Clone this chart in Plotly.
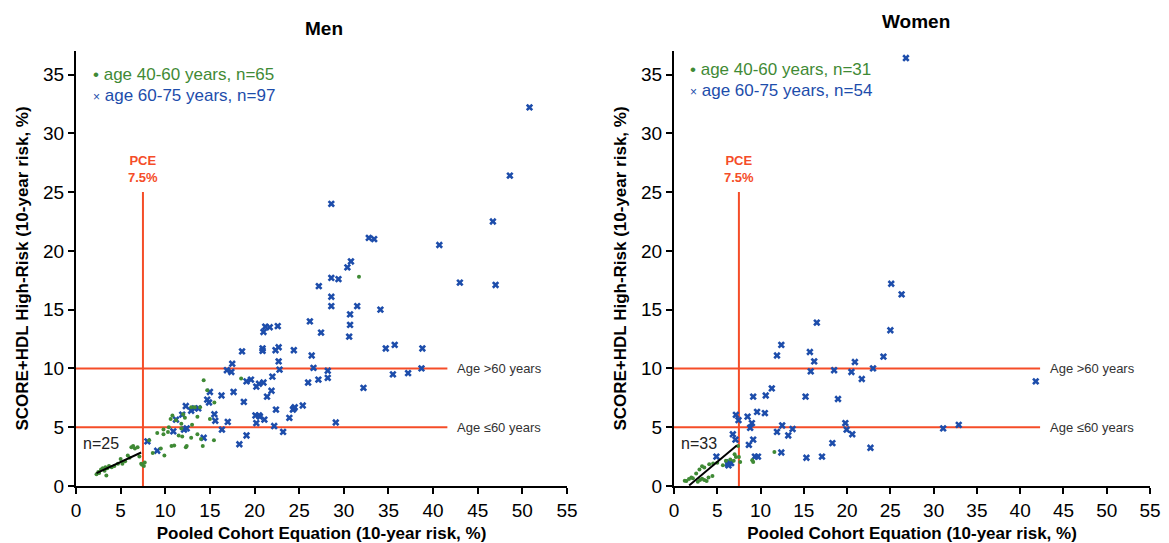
import plotly.graph_objects as go

# ---------------- data ----------------
men_young_x = [2.3, 2.5, 2.6, 2.8, 3.0, 3.2, 3.3, 3.5, 3.7, 3.4, 4.0, 4.3, 4.7, 5.0, 5.2, 5.5, 5.8, 6.0, 6.2, 6.4, 6.6, 6.9, 7.1, 7.3, 7.4,
               7.6, 7.7, 8.6, 9.1, 9.5, 9.8, 9.8, 9.9, 10.6, 10.8, 11.2, 10.7, 11.0, 11.8, 11.8, 11.9, 12.0, 12.2, 12.3, 12.9,
               12.9, 13.3, 13.6, 13.6, 13.9, 14.0, 14.2, 14.3, 14.7, 15.0, 15.45, 15.5, 18.5, 31.7, 10.4, 8.2, 11.5, 12.4, 13.0, 10.3]
men_young_y = [1.0, 1.2, 1.1, 1.4, 1.5, 1.3, 1.6, 1.5, 1.7, 0.9, 1.6, 1.7, 1.9, 2.3, 1.9, 2.1, 2.6, 2.4, 3.3, 3.4, 3.2, 3.3, 2.5, 1.9, 1.8,
               1.7, 2.0, 2.8, 4.5, 3.2, 4.8, 4.4, 2.6, 5.7, 6.0, 5.6, 3.4, 3.45, 4.9, 5.3, 4.2, 6.1, 5.8, 3.3, 4.1,
               6.7, 6.7, 5.9, 4.4, 6.7, 4.0, 3.4, 9.0, 8.15, 5.7, 3.9, 7.1, 9.15, 17.8, 5.0, 3.9, 4.3, 3.4, 5.2, 4.6]

men_old_x = [8.0, 9.1, 10.9, 11.2, 11.9, 12.1, 12.3, 12.9, 13.3, 13.7, 14.3, 14.7, 14.9, 15.0, 15.5, 15.6, 16.3, 16.35, 17.0, 16.9,
             17.4, 17.5, 17.65, 18.3, 18.6, 18.8, 19.1, 19.1, 19.6, 20.2, 20.5, 21.0, 20.1, 20.6, 21.1, 20.2, 20.9, 20.9, 21.0, 21.2,
             21.7, 22.6, 22.35, 22.7, 22.7, 22.8, 21.9, 21.4, 22.4, 22.2, 23.2, 23.9, 24.3, 24.5, 24.4, 24.4, 25.4, 26.0, 26.2, 26.4,
             26.6, 27.15, 27.45, 27.2, 28.2, 28.2, 28.6, 28.6, 29.4, 28.6, 28.6, 29.1, 30.4, 30.8, 30.7, 30.7, 30.6, 31.5, 32.2, 32.8,
             33.4, 34.1, 34.7, 35.7, 35.5, 37.2, 38.8, 38.7, 40.7, 43.0, 46.7, 47.0, 48.6, 50.8, 12.4, 20.5, 22.0]
men_old_y = [3.8, 3.0, 4.65, 5.65, 6.07, 4.8, 6.8, 6.4, 6.6, 6.6, 4.1, 7.35, 7.1, 8.0, 6.1, 5.55, 7.7, 4.8, 5.45, 9.85,
             9.7, 10.4, 8.0, 3.55, 11.45, 7.15, 4.3, 8.9, 9.05, 8.45, 8.7, 8.8, 6.0, 5.9, 5.65, 5.35, 11.7, 11.5, 13.1, 13.55,
             13.5, 13.6, 11.55, 11.8, 10.6, 9.9, 8.1, 7.6, 6.5, 5.1, 4.6, 5.8, 6.5, 6.7, 6.6, 11.55, 6.85, 8.8, 14.0, 11.1,
             10.05, 9.05, 13.05, 17.0, 9.8, 9.2, 24.0, 17.7, 17.6, 16.1, 15.3, 5.4, 18.6, 19.1, 14.6, 13.7, 12.7, 15.3, 8.35, 21.1,
             21.0, 15.0, 11.7, 12.0, 9.5, 9.6, 11.7, 10.0, 20.5, 17.3, 22.5, 17.1, 26.4, 32.2, 4.9, 6.0, 9.3]

women_young_x = [1.24, 1.43, 1.73, 2.0, 2.18, 2.56, 2.94, 3.24, 3.5, 2.75, 3.0, 3.24, 3.5, 3.77, 3.99, 4.07, 4.44, 4.52, 5.0, 5.65,
                 6.0, 6.5, 6.9, 7.15, 7.4, 7.5, 7.65, 9.04, 9.15, 11.6, 7.0]
women_young_y = [0.45, 0.42, 0.59, 0.73, 0.65, 1.07, 1.41, 1.69, 1.58, 0.37, 0.5, 0.62, 0.5, 0.42, 0.73, 1.86, 0.84, 1.91, 1.97, 1.77,
                 2.14, 2.25, 2.14, 2.47, 3.4, 2.47, 2.05, 2.19, 2.05, 2.9, 2.7]

women_old_x = [16.5, 12.4, 11.9, 15.7, 16.2, 15.8, 11.3, 10.6, 9.15, 15.2, 9.6, 10.5, 8.5, 7.15, 7.45, 9.0, 8.8, 12.5, 13.7, 11.9,
               13.2, 6.8, 7.1, 9.15, 8.65, 12.4, 9.35, 9.7, 4.9, 6.2, 6.4, 6.6, 6.3, 15.3, 17.1, 25.1, 26.3, 25.0, 18.5, 20.5,
               20.9, 21.7, 23.0, 24.2, 18.95, 19.8, 19.95, 20.6, 18.3, 22.7, 31.1, 32.9, 41.8, 26.8]
women_old_y = [13.9, 12.0, 11.1, 11.4, 10.6, 9.75, 8.3, 7.7, 7.6, 7.6, 6.3, 6.2, 5.9, 6.05, 5.6, 5.35, 4.95, 5.15, 4.85, 4.6,
               4.3, 4.4, 3.95, 3.95, 3.5, 2.85, 2.5, 2.5, 2.5, 1.9, 2.0, 1.95, 1.75, 2.4, 2.5, 17.2, 16.3, 13.25, 9.85, 9.7,
               10.55, 9.1, 10.0, 11.0, 7.4, 5.35, 4.8, 4.4, 3.65, 3.25, 4.9, 5.2, 8.9, 36.4]

men_fit_x = [2.3, 7.3]
men_fit_y = [1.1, 2.85]
women_fit_x = [1.75, 7.25]
women_fit_y = [0.05, 3.45]

pce_cut = 7.5
risk_cuts = [10, 5]
risk_labels = ["Age >60 years", "Age \u226460 years"]
x_ticks = list(range(0, 60, 5))
y_ticks = list(range(0, 40, 5))

GREEN = "#3f8a35"
BLUE = "#1d4dab"
RED = "#f54d28"
FONT = "Liberation Sans, Arial"

# page has an 8px body margin: figure pixel = page pixel - 8
W, H = 1161, 535
OFF = 8


def px(v):
    return (v - OFF) / W


def py(v):
    return 1 - (v - OFF) / H


fig = go.Figure()

panels = [
    dict(x="x", y="y",
         yx=men_young_x, yy=men_young_y, ox=men_old_x, oy=men_old_y,
         fx=men_fit_x, fy=men_fit_y, n="n=25", lx=42.5, line_end=41.6,
         leg1="age 40-60 years, n=65", leg2="age 60-75 years, n=97", ly1=0.947, ly2=0.897),
    dict(x="x2", y="y2",
         yx=women_young_x, yy=women_young_y, ox=women_old_x, oy=women_old_y,
         fx=women_fit_x, fy=women_fit_y, n="n=33", lx=43.2, line_end=42.3,
         leg1="age 40-60 years, n=31", leg2="age 60-75 years, n=54", ly1=0.957, ly2=0.910),
]

annotations = []
shapes = []
for p in panels:
    fig.add_trace(go.Scatter(x=p["ox"], y=p["oy"], mode="markers", xaxis=p["x"], yaxis=p["y"],
                             marker=dict(symbol="x", size=6.5, color=BLUE), showlegend=False))
    fig.add_trace(go.Scatter(x=p["yx"], y=p["yy"], mode="markers", xaxis=p["x"], yaxis=p["y"],
                             marker=dict(symbol="circle", size=4, color=GREEN), showlegend=False))
    fig.add_trace(go.Scatter(x=p["fx"], y=p["fy"], mode="lines", xaxis=p["x"], yaxis=p["y"],
                             line=dict(color="black", width=2), showlegend=False))
    shapes.append(dict(type="line", xref=p["x"], yref=p["y"], x0=pce_cut, x1=pce_cut, y0=0, y1=25,
                       line=dict(color=RED, width=2), layer="below"))
    for c, lab in zip(risk_cuts, risk_labels):
        shapes.append(dict(type="line", xref=p["x"], yref=p["y"], x0=0, x1=p["line_end"], y0=c, y1=c,
                           line=dict(color=RED, width=2), layer="below"))
        annotations.append(dict(xref=p["x"], yref=p["y"], x=p["lx"], y=c, text=lab, showarrow=False,
                                xanchor="left", yanchor="middle",
                                font=dict(family=FONT, size=13, color="#333333")))
    annotations.append(dict(xref=p["x"], yref=p["y"], x=pce_cut, y=25.4, text="<b>PCE<br>7.5%</b>",
                            showarrow=False, xanchor="center", yanchor="bottom",
                            font=dict(family=FONT, size=13, color=RED)))
    annotations.append(dict(xref=p["x"], yref=p["y"], x=0.6, y=3.6, text=p["n"], showarrow=False,
                            xanchor="left", yanchor="middle",
                            font=dict(family=FONT, size=16, color="#222222")))
    annotations.append(dict(xref=p["x"] + " domain", yref=p["y"] + " domain", x=0.03, y=p["ly1"],
                            text="\u2022 " + p["leg1"], showarrow=False, xanchor="left", yanchor="middle",
                            font=dict(family=FONT, size=17, color=GREEN)))
    annotations.append(dict(xref=p["x"] + " domain", yref=p["y"] + " domain", x=0.03, y=p["ly2"],
                            text="<span style='font-size:12px'>\u00d7</span> " + p["leg2"], showarrow=False,
                            xanchor="left", yanchor="middle",
                            font=dict(family=FONT, size=17, color=BLUE)))

annotations.append(dict(xref="paper", yref="paper", x=px(324), y=py(28), text="<b>Men</b>",
                        showarrow=False, xanchor="center", yanchor="middle",
                        font=dict(family=FONT, size=19, color="black")))
annotations.append(dict(xref="paper", yref="paper", x=px(916), y=py(22), text="<b>Women</b>",
                        showarrow=False, xanchor="center", yanchor="middle",
                        font=dict(family=FONT, size=19, color="black")))

axis_common = dict(showline=True, linecolor="black", linewidth=2, ticks="outside", ticklen=6, tickwidth=2,
                   tickcolor="black", showgrid=False, zeroline=False, automargin=False,
                   tickfont=dict(family=FONT, size=19, color="black"))
title_font = dict(family=FONT, size=17, color="black")
xtitle = "<b>Pooled Cohort Equation (10-year risk, %)</b>"
ytitle = "<b>SCORE+HDL High-Risk (10-year risk, %)</b>"

ydom = [py(486), py(51)]
fig.update_layout(
    width=W, height=H, margin=dict(l=0, r=0, t=0, b=0, autoexpand=False),
    paper_bgcolor="white", plot_bgcolor="white", showlegend=False,
    xaxis=dict(domain=[px(76), px(567)], range=[0, 55], tickvals=x_ticks, anchor="y",
               title=dict(text=xtitle, font=title_font, standoff=8), **axis_common),
    yaxis=dict(domain=ydom, range=[0, 37], tickvals=y_ticks, anchor="x",
               title=dict(text=ytitle, font=title_font, standoff=10), **axis_common),
    xaxis2=dict(domain=[px(674), px(1150)], range=[0, 55], tickvals=x_ticks, anchor="y2",
                title=dict(text=xtitle, font=title_font, standoff=8), **axis_common),
    yaxis2=dict(domain=ydom, range=[0, 37], tickvals=y_ticks, anchor="x2",
                title=dict(text=ytitle, font=title_font, standoff=10), **axis_common),
    annotations=annotations, shapes=shapes,
)

fig.write_html("out.html")
